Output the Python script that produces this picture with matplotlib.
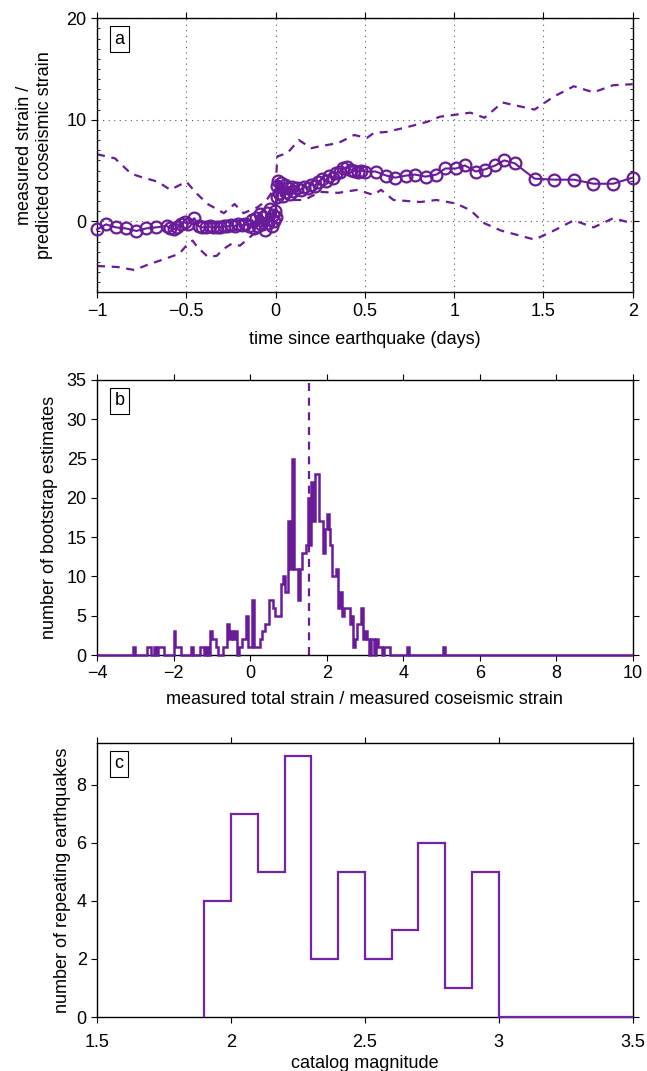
import numpy as np
import matplotlib
matplotlib.use("Agg")
import matplotlib.pyplot as plt
from matplotlib.ticker import MultipleLocator, FuncFormatter

plt.rcParams["font.family"] = ["Liberation Sans", "DejaVu Sans"]
plt.rcParams["font.size"] = 13

purple = "#6a1b9a"

# --- panel a: strain ratio vs time (days) ---
t_main = [-1.00, -0.95, -0.895, -0.84, -0.78, -0.725, -0.67, -0.61, -0.59, -0.57,
          -0.55, -0.53, -0.51, -0.49, -0.455, -0.43, -0.41, -0.39, -0.37, -0.35,
          -0.33, -0.31, -0.29, -0.27, -0.25, -0.23, -0.21, -0.19, -0.17, -0.15,
          -0.13, -0.12, -0.11, -0.10, -0.09, -0.08, -0.07, -0.06, -0.05, -0.04,
          -0.03, -0.02, -0.015, -0.01, -0.005, 0.0, 0.005, 0.01, 0.015, 0.02,
          0.03, 0.04, 0.05, 0.06, 0.07, 0.08, 0.09, 0.10, 0.12, 0.14,
          0.16, 0.18, 0.20, 0.22, 0.24, 0.26, 0.28, 0.30, 0.32, 0.34,
          0.36, 0.38, 0.40, 0.42, 0.44, 0.46, 0.48, 0.50, 0.56, 0.62,
          0.67, 0.73, 0.78, 0.84, 0.90, 0.95, 1.01, 1.06, 1.12, 1.17,
          1.23, 1.28, 1.34, 1.45, 1.56, 1.67, 1.78, 1.89, 2.00]
v_main = [-0.8, -0.3, -0.6, -0.7, -0.95, -0.7, -0.6, -0.45, -0.7, -0.8,
          -0.6, -0.3, -0.1, -0.25, 0.3, -0.5, -0.6, -0.6, -0.5, -0.6,
          -0.55, -0.6, -0.5, -0.5, -0.4, -0.5, -0.3, -0.4, -0.3, -0.5,
          0.1, -0.7, 0.3, -0.5, 0.7, -0.3, 0.4, -0.9, 0.8, -0.2,
          1.2, -0.5, 0.6, 0.0, 1.0, 0.4, 3.5, 2.4, 4.0, 2.8,
          3.8, 2.5, 3.6, 2.9, 3.3, 2.7, 3.4, 3.0, 3.3, 3.1,
          3.4, 3.3, 3.6, 3.5, 3.9, 4.2, 4.0, 4.5, 4.3, 4.8,
          4.9, 5.2, 5.3, 5.1, 5.0, 4.9, 5.0, 4.9, 4.9, 4.5,
          4.3, 4.5, 4.6, 4.4, 4.6, 5.2, 5.2, 5.5, 4.9, 5.1,
          5.5, 6.0, 5.7, 4.2, 4.1, 4.1, 3.7, 3.7, 4.3]

t_upper = [-1.0, -0.9, -0.81, -0.76, -0.66, -0.59, -0.5, -0.44, -0.38, -0.29,
           -0.23, -0.18, -0.10, -0.05, 0.0, 0.01, 0.065, 0.13, 0.2, 0.25,
           0.35, 0.44, 0.51, 0.55, 0.62, 0.72, 0.85, 0.92, 1.01, 1.09,
           1.17, 1.27, 1.45, 1.56, 1.67, 1.78, 1.89, 2.0]
v_upper = [6.6, 6.2, 4.7, 4.4, 3.9, 3.1, 3.9, 2.7, 1.7, 0.8,
           1.7, 0.8, 1.4, 2.1, 3.4, 6.4, 6.7, 8.0, 7.2, 7.4,
           7.7, 8.5, 8.2, 8.7, 8.8, 9.2, 9.8, 10.3, 10.5, 10.7,
           10.2, 11.7, 11.0, 12.3, 13.3, 12.7, 13.4, 13.5]

t_lower = [-1.0, -0.885, -0.79, -0.72, -0.62, -0.54, -0.49, -0.465, -0.44, -0.38,
           -0.33, -0.29, -0.245, -0.2, -0.14, -0.10, -0.056, 0.0, 0.01, 0.075,
           0.16, 0.25, 0.35, 0.46, 0.51, 0.55, 0.59, 0.66, 0.81, 0.9,
           1.01, 1.09, 1.17, 1.26, 1.45, 1.56, 1.67, 1.78, 1.89, 2.0]
v_lower = [-4.4, -4.5, -4.8, -4.3, -3.7, -3.2, -2.2, -1.9, -2.5, -3.5,
           -3.4, -2.7, -2.2, -2.4, -1.5, -0.9, -0.6, 0.8, 2.7, 2.1,
           2.1, 2.9, 2.8, 3.1, 2.8, 2.6, 3.1, 2.1, 1.9, 2.1,
           1.75, 1.1, -0.2, -0.9, -1.8, -0.9, 0.1, -0.6, 0.3, -0.2]

# --- panel b: bootstrap histogram (bin width 0.05, left edges of non-empty bins) ---
boot_left = [-3.05, -2.70, -2.65, -2.50, -2.40, -2.35, -2.30, -2.00, -1.95, -1.90,
             -1.85, -1.55, -1.30, -1.25, -1.15, -1.05, -1.00, -0.95, -0.90, -0.70,
             -0.65, -0.60, -0.55, -0.50, -0.45, -0.40, -0.30, -0.25, -0.20, -0.15,
             -0.10, -0.05, 0.00, 0.05, 0.10, 0.15, 0.20, 0.25, 0.30, 0.35,
             0.40, 0.45, 0.50, 0.55, 0.60, 0.65, 0.70, 0.75, 0.80, 0.85,
             0.90, 0.95, 1.00, 1.05, 1.10, 1.15, 1.20, 1.25, 1.30, 1.35,
             1.40, 1.45, 1.50, 1.55, 1.60, 1.65, 1.70, 1.75, 1.80, 1.85,
             1.90, 1.95, 2.00, 2.05, 2.10, 2.15, 2.20, 2.25, 2.30, 2.35,
             2.40, 2.45, 2.50, 2.55, 2.60, 2.65, 2.70, 2.75, 2.80, 2.85,
             2.90, 2.95, 3.00, 3.05, 3.15, 3.20, 3.30, 3.35, 3.40, 3.50,
             3.55, 3.60, 4.10, 5.05]
boot_count = [1, 1, 1, 1, 1, 1, 1, 3, 1, 1,
              1, 1, 1, 1, 1, 3, 2, 2, 1, 1,
              1, 4, 2, 3, 2, 3, 1, 1, 2, 2,
              5, 1, 1, 7, 1, 1, 1, 2, 3, 3,
              4, 4, 7, 7, 6, 5, 5, 5, 9, 10,
              8, 8, 17, 11, 25, 11, 11, 7, 11, 13,
              13, 14, 20, 14, 22, 17, 23, 23, 17, 17,
              13, 16, 18, 16, 14, 10, 10, 11, 6, 8,
              5, 6, 6, 6, 4, 5, 1, 2, 4, 4,
              6, 2, 3, 2, 2, 2, 2, 1, 1, 1,
              1, 1, 1, 1]
boot_median = 1.55

# --- panel c: magnitudes of repeating earthquakes ---
mag_edges = [1.9, 2.0, 2.1, 2.2, 2.3, 2.4, 2.5, 2.6, 2.7, 2.8, 2.9,
             3.0, 3.1, 3.2, 3.3, 3.4, 3.5]
mag_counts = [4, 7, 5, 9, 2, 5, 2, 3, 6, 1, 5, 0, 0, 0, 0, 0]


def minus_fmt(v, pos):
    return f"{v:g}".replace("-", "\u2212")


def panel_label(ax, s):
    ax.annotate(s, xy=(0, 1), xycoords="axes fraction", xytext=(12.5, -9),
                textcoords="offset points", ha="left", va="top", fontsize=13,
                bbox=dict(boxstyle="square,pad=0.25", fc="white", ec="black", lw=0.8))


def style_axes(ax):
    ax.tick_params(which="major", direction="out", length=4, width=0.8,
                   top=True, right=True, labelsize=13)
    for s in ax.spines.values():
        s.set_linewidth(1.0)
    ax.xaxis.set_major_formatter(FuncFormatter(minus_fmt))
    ax.yaxis.set_major_formatter(FuncFormatter(minus_fmt))


fig = plt.figure(figsize=(6.47, 10.71), dpi=100)
ax_a = fig.add_axes([0.150, 0.7270, 0.828, 0.2560])
ax_b = fig.add_axes([0.150, 0.3884, 0.828, 0.2568])
ax_c = fig.add_axes([0.150, 0.0504, 0.828, 0.2560])

# panel a
ax_a.plot(t_upper, v_upper, color=purple, lw=1.6, dashes=(3.6, 3.0))
ax_a.plot(t_lower, v_lower, color=purple, lw=1.6, dashes=(3.6, 3.0))
ax_a.plot(t_main, v_main, color=purple, lw=1.5, marker="o", ms=8.5,
          mfc="none", mec=purple, mew=1.6, clip_on=False, zorder=4)
ax_a.set_xlim(-1, 2)
ax_a.set_ylim(-7, 20)
ax_a.xaxis.set_major_locator(MultipleLocator(0.5))
ax_a.yaxis.set_major_locator(MultipleLocator(10))
ax_a.yaxis.set_minor_locator(MultipleLocator(1))
style_axes(ax_a)
ax_a.tick_params(which="minor", axis="y", direction="in", length=2.5, width=0.6,
                 left=True, right=True)
ax_a.grid(True, which="major", color="0.35", linestyle=(0, (1, 4)), lw=0.8)
ax_a.set_xlabel("time since earthquake (days)", labelpad=8)
ax_a.set_ylabel("measured strain /\npredicted coseismic strain", labelpad=10)
panel_label(ax_a, "a")

# panel b
edges_b = np.round(np.arange(-4, 10.0001, 0.05), 2)
counts_b = np.zeros(len(edges_b) - 1)
for left, c in zip(boot_left, boot_count):
    counts_b[int(round((left + 4) / 0.05))] = c
ax_b.stairs(counts_b, edges_b, color=purple, lw=1.8, clip_on=False, zorder=3)
ax_b.axvline(boot_median, color=purple, lw=1.6, dashes=(3.6, 3.0))
ax_b.set_xlim(-4, 10)
ax_b.set_ylim(0, 35)
ax_b.xaxis.set_major_locator(MultipleLocator(2))
ax_b.yaxis.set_major_locator(MultipleLocator(5))
style_axes(ax_b)
ax_b.set_xlabel("measured total strain / measured coseismic strain", labelpad=6)
ax_b.set_ylabel("number of bootstrap estimates", labelpad=6)
panel_label(ax_b, "b")

# panel c
ax_c.stairs(mag_counts, mag_edges, color="#7422a8", lw=1.6, clip_on=False, zorder=3)
ax_c.set_xlim(1.5, 3.5)
ax_c.set_ylim(0, 9.45)
ax_c.xaxis.set_major_locator(MultipleLocator(0.5))
ax_c.yaxis.set_major_locator(MultipleLocator(2))
style_axes(ax_c)
ax_c.tick_params(axis="x", pad=8)
ax_c.set_xlabel("catalog magnitude", labelpad=3)
ax_c.set_ylabel("number of repeating earthquakes", labelpad=4)
panel_label(ax_c, "c")

fig.savefig("out.png", dpi=100)
